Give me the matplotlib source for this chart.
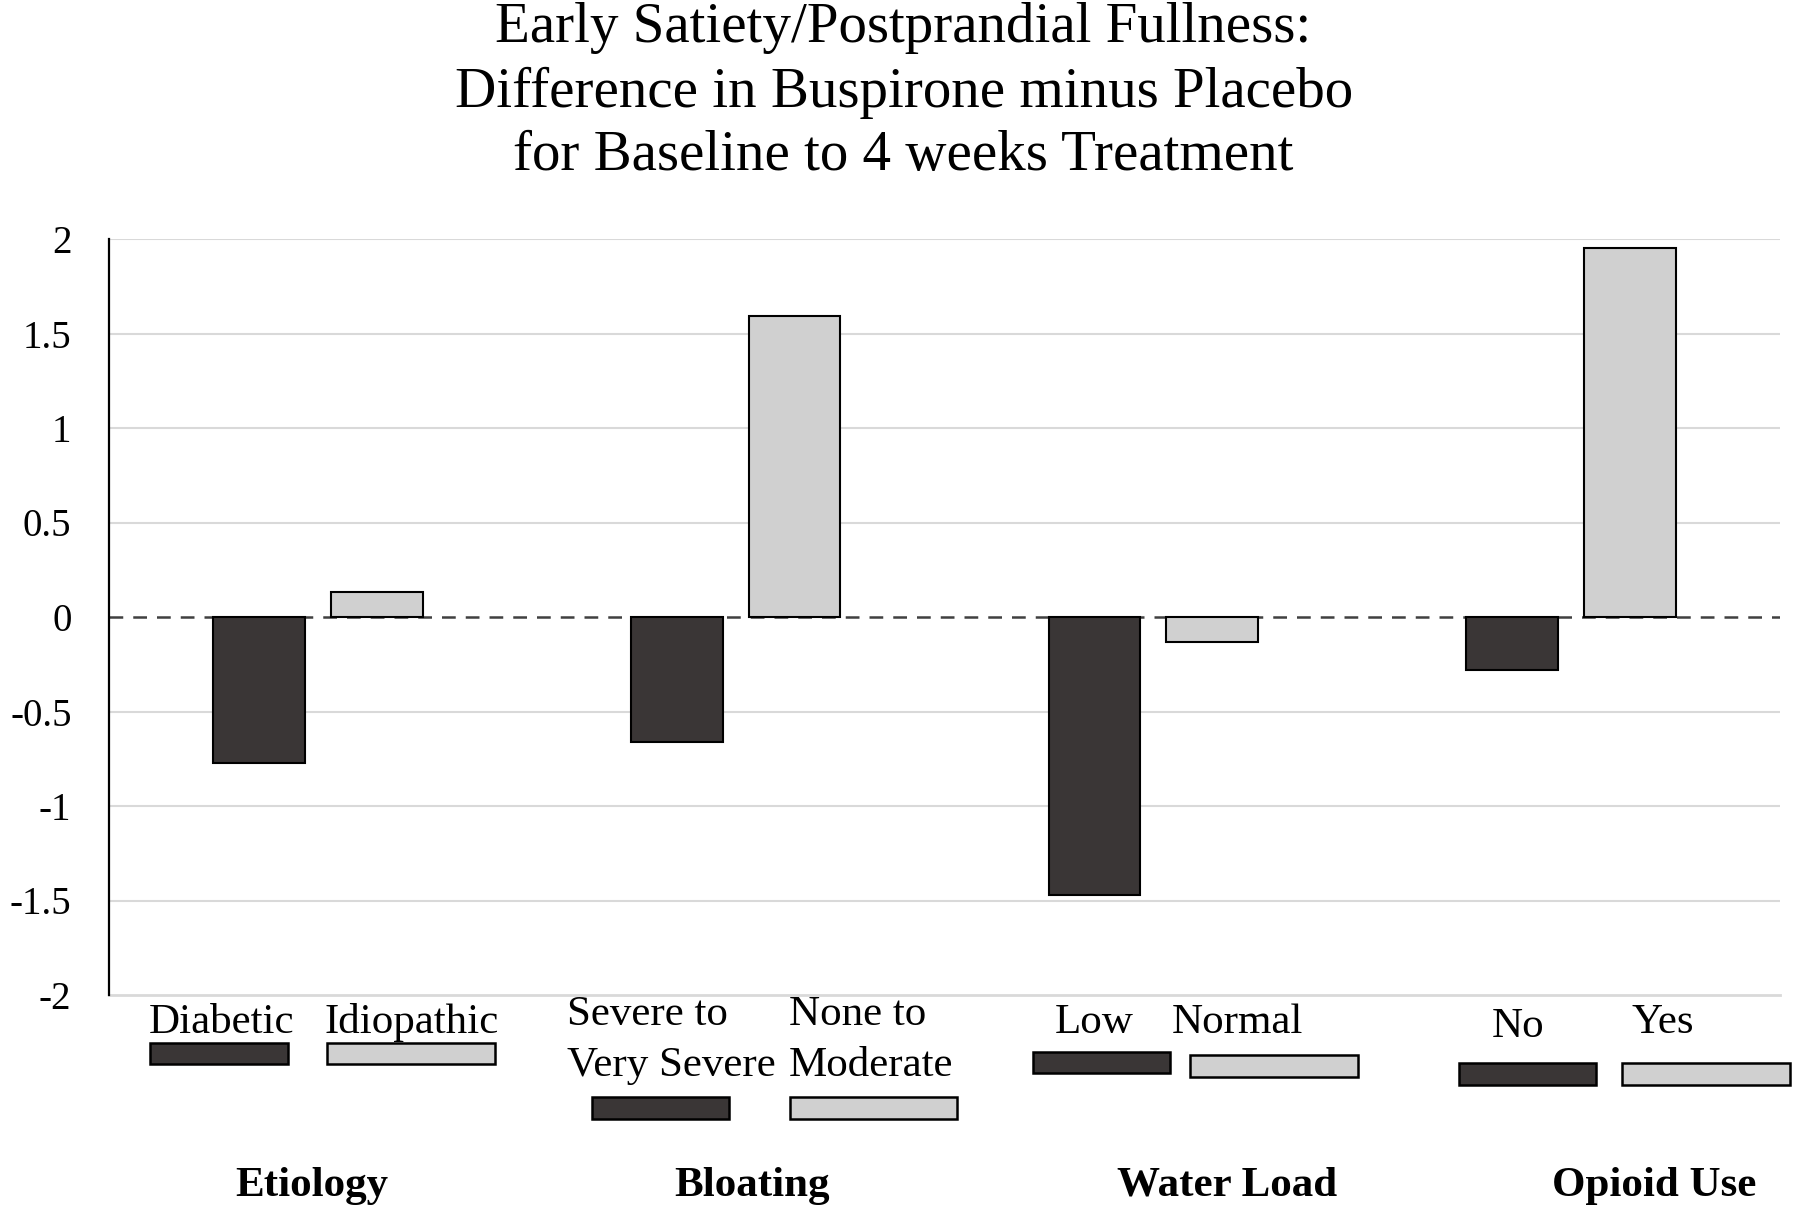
import matplotlib
matplotlib.use("Agg")
import matplotlib.pyplot as plt
from matplotlib.patches import Rectangle

plt.rcParams['font.family'] = ['Liberation Serif', 'DejaVu Serif']

# data
groups = ['Etiology', 'Bloating', 'Water Load', 'Opioid Use']
dark_labels = ['Diabetic', 'Severe to\nVery Severe', 'Low', 'No']
light_labels = ['Idiopathic', 'None to\nModerate', 'Normal', 'Yes']
dark_vals = [-0.77, -0.66, -1.47, -0.28]
light_vals = [0.13, 1.59, -0.13, 1.95]
yticks = [-2, -1.5, -1, -0.5, 0, 0.5, 1, 1.5, 2]
ytick_labels = ['-2', '-1.5', '-1', '-0.5', '0', '0.5', '1', '1.5', '2']
title_lines = ['Early Satiety/Postprandial Fullness:',
               'Difference in Buspirone minus Placebo',
               'for Baseline to 4 weeks Treatment']

DARK = '#3a3636'
LIGHT = '#d0d0d0'

W, H = 1800, 1208
fig = plt.figure(figsize=(W / 100, H / 100), dpi=100)


def fx(px):
    return px / W


def fy(py):
    return 1 - py / H


ax = fig.add_axes([fx(109), fy(995), fx(1780) - fx(109), fy(239) - fy(995)])

x = list(range(len(groups)))
off = 0.141
bw = 0.22
ax.bar([i - off for i in x], dark_vals, bw, color=DARK, edgecolor='black',
       linewidth=1.5, zorder=3)
ax.bar([i + off for i in x], light_vals, bw, color=LIGHT, edgecolor='black',
       linewidth=1.5, zorder=3)

ax.set_xlim(-0.5, 3.5)
ax.set_ylim(-2, 2)
ax.set_xticks([])
ax.set_yticks(yticks)
ax.set_yticklabels(ytick_labels, fontsize=28)
ax.tick_params(axis='y', length=0, pad=27)
for t in yticks:
    if t == 0:
        ax.axhline(0, color='#404040', lw=1.8, dashes=(5.5, 4), zorder=2)
    elif t > -2:
        ax.axhline(t, color='#d9d9d9', lw=1.5, zorder=1)
ax.axhline(-2, color='#d9d9d9', lw=2, zorder=1, clip_on=False)
for s in ['top', 'right', 'bottom']:
    ax.spines[s].set_visible(False)
ax.spines['left'].set_linewidth(1.6)
ax.spines['left'].set_zorder(4)

# title
for line, yb in zip(title_lines, [42, 107, 170]):
    fig.text(0.502, fy(yb), line, ha='center', va='baseline', fontsize=41)

# per-group legend (text left x, text baseline y, swatch box)
dark_txt = [(149, 1033), (567, 1025), (1055, 1033), (1492, 1037)]
light_txt = [(324, 1033), (789, 1025), (1172, 1033), (1631, 1033)]
dark_box = [(150, 1043, 138, 21), (592, 1097, 137, 22), (1033, 1052, 137, 21), (1459, 1063, 137, 22)]
light_box = [(327, 1043, 168, 21), (790, 1097, 167, 22), (1190, 1055, 168, 22), (1622, 1063, 168, 22)]
group_x = [312, 752, 1227, 1654]

for labels, txts, boxes, col in [(dark_labels, dark_txt, dark_box, DARK),
                                  (light_labels, light_txt, light_box, LIGHT)]:
    for lab, (tx, ty), (bx, by, bwid, bh) in zip(labels, txts, boxes):
        for k, part in enumerate(lab.split('\n')):
            fig.text(fx(tx), fy(ty + 51 * k), part, ha='left', va='baseline',
                     fontsize=31)
        fig.add_artist(Rectangle((fx(bx), fy(by + bh)), bwid / W, bh / H,
                                 transform=fig.transFigure, facecolor=col,
                                 edgecolor='black', linewidth=1.8))

for g, gx in zip(groups, group_x):
    fig.text(fx(gx), fy(1196), g, ha='center', va='baseline', fontsize=31,
             fontweight='bold')

fig.savefig('out.png', dpi=100)
